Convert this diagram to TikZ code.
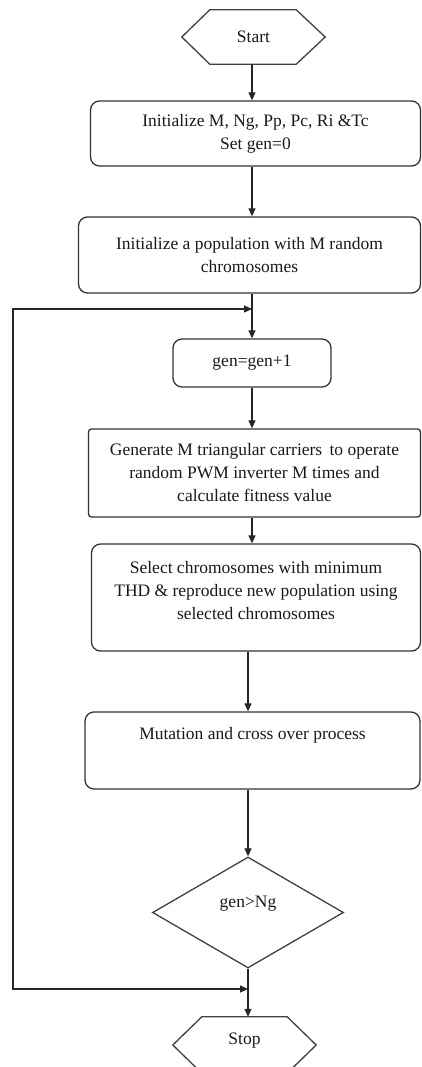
\documentclass[tikz,border=0pt]{standalone}
\usepackage{fontspec}
\setmainfont{Liberation Serif}
\usetikzlibrary{shapes.geometric,arrows.meta}
\begin{document}
\begin{tikzpicture}[x=1pt,y=-1pt,
  every node/.style={font=\fontsize{17.5}{23}\selectfont, text=black!90},
  pbox/.style={draw=black!80, line width=1.3pt, rounded corners=9pt, inner sep=0pt, align=center},
  sbox/.style={pbox, rounded corners=3pt},
  shp/.style={draw=black!75, line width=1.3pt, line join=miter},
  arr/.style={line width=1.2pt, draw=black!85, -{Triangle[length=8pt,width=7pt]}},
  loop/.style={line width=1.2pt, draw=black!85, {Triangle[length=8pt,width=7pt]}-{Triangle[length=8pt,width=7pt]}},
  hex/.style={inner sep=0pt, minimum width=143pt, minimum height=54pt}]
\useasboundingbox (0,0) rectangle (422,1067);

% start
\node[hex] (start) at (253.5,37) {Start};
\draw[shp] (start.west) -- ([xshift=28pt]start.north west) -- ([xshift=-29pt]start.north east)
  -- (start.east) -- ([xshift=-29pt]start.south east) -- ([xshift=28pt]start.south west) -- cycle;

\node[pbox, minimum width=330pt, minimum height=65pt] (b1) at (255.5,133.5)
  {Initialize M, Ng, Pp, Pc, Ri \&Tc\\Set gen=0};
\node[pbox, minimum width=342pt, minimum height=76pt] (b2) at (249.5,255)
  {Initialize a population with M random\\chromosomes};
\node[pbox, minimum width=158pt, minimum height=48pt] (gen) at (252,363) {gen=gen+1};
\node[sbox, minimum width=332pt, minimum height=88pt] (b4) at (254.5,473)
  {Generate M triangular carriers\, to operate\\random PWM inverter M times and\\calculate fitness value};
\node[pbox, minimum width=329pt, minimum height=107pt] (b5) at (256,597.5) {};
\node[align=center, yshift=7pt] (b5t) at (b5)
  {Select chromosomes with minimum\\THD \& reproduce new population using\\selected chromosomes};
\node[pbox, minimum width=335pt, minimum height=77pt] (b6) at (252.5,750.5) {};
\node[yshift=15pt] (b6t) at (b6) {Mutation and cross over process};
\node[diamond, draw=black!75, line width=1.3pt, minimum width=191pt, minimum height=111pt, inner sep=0pt, aspect=1.72] (dia) at (248,912.5) {};
\node[yshift=9pt] (diat) at (dia) {gen>Ng};

% stop
\node[hex, minimum height=56pt] (stop) at (244.5,1045) {};
\node[yshift=4pt] (stopt) at (stop) {Stop};
\draw[shp] (stop.west) -- ([xshift=29pt]stop.north west) -- ([xshift=-29pt]stop.north east)
  -- (stop.east) -- ([xshift=-29pt]stop.south east) -- ([xshift=29pt]stop.south west) -- cycle;

% connectors
\draw[arr] (start.south -| gen.north) -- (b1.north -| gen.north);
\draw[arr] (b1.south -| gen.north) -- (b2.north -| gen.north);
\draw[arr] (b2.south -| gen.north) -- (gen.north);
\draw[arr] (gen.south) -- (b4.north -| gen.north);
\draw[arr] (b4.south -| gen.south) -- (b5.north -| gen.south);
\draw[arr] (b5.south -| dia.north) -- (b6.north -| dia.north);
\draw[arr] (b6.south -| dia.north) -- (dia.north);
\draw[arr] (dia.south) -- (stop.north -| dia.south);

\coordinate (jt) at (252,309);
\coordinate (jb) at (248,989);
\coordinate (lt) at (13,309);
\draw[loop] (jb) -| (lt) -- (jt);
\end{tikzpicture}
\end{document}
